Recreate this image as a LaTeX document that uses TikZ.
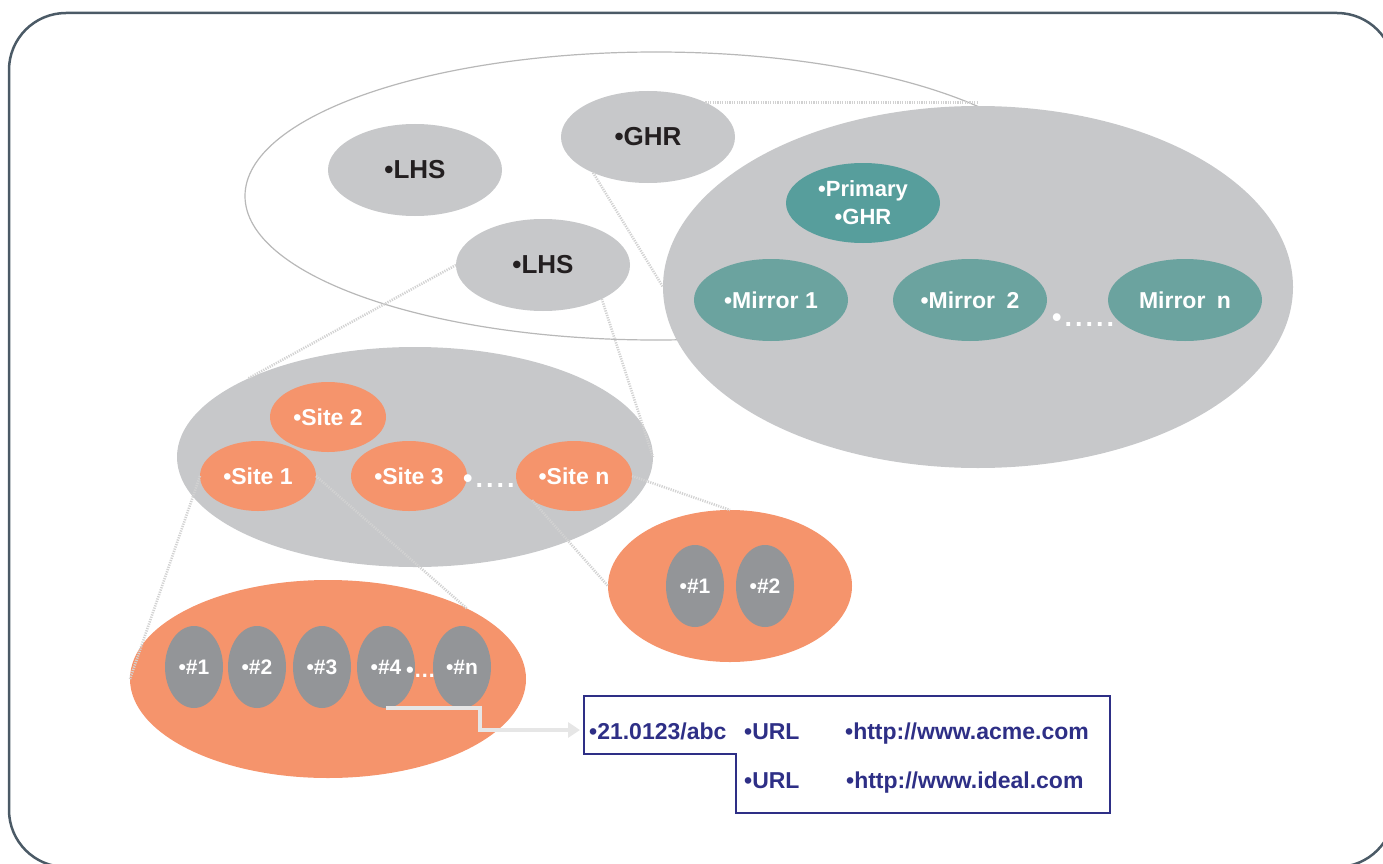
\documentclass[tikz,border=0pt]{standalone}
\usepackage{fontspec}
\setmainfont{Liberation Sans}
\usetikzlibrary{shapes.geometric,arrows.meta}
\definecolor{framecol}{HTML}{4B5A66}
\definecolor{ringcol}{HTML}{B8B8B8}
\definecolor{cloud}{HTML}{C7C8CA}
\definecolor{ink}{HTML}{231F20}
\definecolor{tealA}{HTML}{579E9C}
\definecolor{tealB}{HTML}{6BA39F}
\definecolor{coral}{HTML}{F5946C}
\definecolor{slate}{HTML}{939598}
\definecolor{navy}{HTML}{2E2F86}
\definecolor{zoomcol}{HTML}{D2D2D2}
\definecolor{pipecol}{HTML}{E6E6E6}
\newcommand\pxfont[2]{\fontsize{#1}{#2}\selectfont\bfseries}
\newcommand\gap{\kern3pt}

\begin{document}
\begin{tikzpicture}[x=1pt,y=-1pt,
  oval/.style={ellipse, inner sep=0pt, outer sep=0pt, align=center},
  store/.style={oval, fill=cloud, text=ink, font=\pxfont{26}{30}, minimum width=174, minimum height=92},
  region/.style={oval, fill=cloud},
  primary/.style={oval, fill=tealA, text=white, font=\pxfont{22}{28}, minimum width=154, minimum height=80},
  mirror/.style={oval, fill=tealB, text=white, font=\pxfont{23}{27}, minimum width=154, minimum height=82},
  site/.style={oval, fill=coral, text=white, font=\pxfont{23}{27}, minimum width=116, minimum height=70},
  siteset/.style={oval, fill=coral},
  holder/.style={oval, fill=slate, text=white, font=\pxfont{21}{25}, minimum width=58, minimum height=82},
  more/.style={inner sep=0pt, text=white, anchor=base west, font=\pxfont{27}{30}},
  zoomline/.style={draw=zoomcol, line width=2.6pt, dash pattern=on 1.2pt off 1.2pt},
  pipe/.style={draw=pipecol, line width=4pt, -{Triangle[length=12pt,width=15pt]}},
  entry/.style={inner sep=0pt, anchor=base west, text=navy, font=\pxfont{23}{27}},
]
\useasboundingbox (0,0) rectangle (1383,864);

% frame
\draw[framecol, line width=2.5pt, rounded corners=57pt] (9,13) rectangle (1394,867);

% top level: handle system
\node[oval, draw=ringcol, line width=1.2pt, fill=white, minimum width=822, minimum height=288] (domain) at (656,196) {};
\node[region, minimum width=630, minimum height=362] (ghrset) at (978,287) {};
\node[store] (ghr)  at (648,137) {•GHR};
\node[store] (lhsA) at (415,170) {•LHS};
\node[store] (lhsB) at (543,265) {•LHS};

% global handle registry with mirrors
\node[primary] (prim) at (863,203) {•Primary\\•GHR};
\node[mirror] (mir1) at (771,300) {•Mirror 1};
\node[mirror] (mir2) at (970,300) {•Mirror\enspace 2};
\node[more] (mdots) at (1052,326) {•\gap.\gap.\gap.\gap.\gap.};
\node[mirror] (mirn) at (1185,300) {Mirror\enspace n};

% local handle service with sites
\node[region, minimum width=476, minimum height=220] (sites) at (415,457) {};
\node[site] (site2) at (328,417) {•Site 2};
\node[site] (site1) at (258,476) {•Site 1};
\node[site] (site3) at (409,476) {•Site 3};
\node[more] (sdots) at (463,487) {•\gap.\gap.\gap.\gap.};
\node[site] (siten) at (574,476) {•Site n};

% servers of site 1
\node[siteset, minimum width=396, minimum height=198] (srvA) at (328,679) {};
\node[holder] (h1) at (194,667) {•\#1};
\node[holder] (h2) at (257,667) {•\#2};
\node[holder] (h3) at (322,667) {•\#3};
\node[holder] (h4) at (386,667) {•\#4};
\node[more, font=\pxfont{22}{25}] (hdots) at (406,677) {•…};
\node[holder] (hn) at (462,667) {•\#n};

% servers of site n
\node[siteset, minimum width=244, minimum height=152] (srvB) at (730,586) {};
\node[holder] (k1) at (695,586) {•\#1};
\node[holder] (k2) at (765,586) {•\#2};

% zoom guides
\draw[zoomline] (ghr.31) -- (ghr.31 -| ghrset.north);
\draw[zoomline] (ghr.213) -- (ghrset.west);
\draw[zoomline] (lhsB.west) -- (sites.155);
\draw[zoomline] (lhsB.330) -- (sites.east);
\draw[zoomline] (site1.west) -- (srvA.west);
\draw[zoomline] (site1.east) -- (srvA.27);
\draw[zoomline] (siten.east) -- (srvB.north);
\draw[zoomline] (siten.210) -- (srvB.west);

% handle record
\coordinate (bA) at (584,696);
\coordinate (bB) at (1110,696);
\coordinate (bC) at (1110,813);
\coordinate (bD) at (736,813);
\coordinate (bE) at (736,754);
\coordinate (bF) at (584,754);
\draw[navy, line width=2.5pt, line join=miter] (bA) -- (bB) -- (bC) -- (bD) -- (bE) -- (bF) -- cycle;
\coordinate (boxin) at (580,730);
\draw[pipe] (h4.south) -- ++(94,0) |- (boxin);

\node[entry] (hid)  at (589,739) {•21.0123/abc};
\node[entry] (typ1) at (744,739) {•URL};
\node[entry] (val1) at (845,739) {•http://www.acme.com};
\node[entry] (typ2) at (744,788) {•URL};
\node[entry] (val2) at (846,788) {•http://www.ideal.com};
\end{tikzpicture}
\end{document}
